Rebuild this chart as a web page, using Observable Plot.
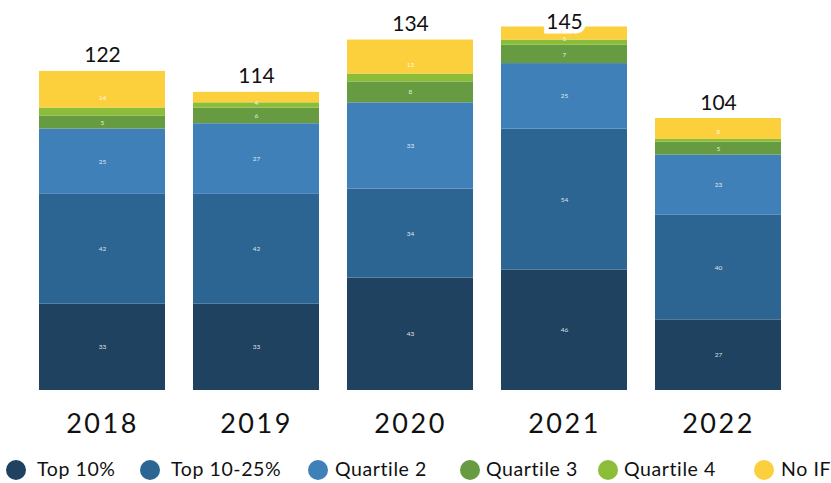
<!DOCTYPE html>
<html>
<head>
<meta charset="utf-8">
<script src="https://cdn.jsdelivr.net/npm/d3@7"></script>
<script src="https://cdn.jsdelivr.net/npm/@observablehq/plot@0.6"></script>
<style>
  html, body { margin: 0; padding: 0; background: #fff; }
  body { width: 831px; font-family: Lato, "Open Sans", sans-serif; }
  #chart svg g[aria-label="x-axis tick label"] text { letter-spacing: 2.5px; }
  #chart svg g[aria-label="totals"] text { letter-spacing: 2px; }
  #legend { position: relative; height: 38px; font-size: 19.5px; color: #111; letter-spacing: 0.6px; white-space: nowrap; }
  #legend .dot { position: absolute; top: 15px; width: 20px; height: 20px; border-radius: 50%; }
  #legend .lab { position: absolute; top: 11px; line-height: 26px; }
</style>
</head>
<body>
<div id="chart"></div>
<div id="legend"></div>
<script>
const years = ["2018", "2019", "2020", "2021", "2022"];
const categories = ["Top 10%", "Top 10-25%", "Quartile 2", "Quartile 3", "Quartile 4", "No IF"];
const top10 = [33, 33, 43, 46, 27];
const top10to25 = [42, 42, 34, 54, 40];
const quartile2 = [25, 27, 33, 25, 23];
const quartile3 = [5, 6, 8, 7, 5];
const quartile4 = [3, 2, 3, 2, 1];
const noIF = [14, 4, 13, 5, 8];
const totals = [122, 114, 134, 145, 104];
const colors = ["#1f4260", "#2d6592", "#3f80b8", "#679b41", "#8bbd39", "#fcd03c"];

const series = [top10, top10to25, quartile2, quartile3, quartile4, noIF];
const data = [];
categories.forEach((c, ci) => years.forEach((y, yi) => data.push({year: y, cat: c, value: series[ci][yi]})));
const tops = years.map((y, yi) => ({year: y, sum: d3.sum(series, s => s[yi]), label: String(totals[yi])}));
const tallest = d3.max(tops, d => d.sum);

const chart = Plot.plot({
  width: 831,
  height: 445,
  marginTop: 10,
  marginBottom: 55,
  marginLeft: 9.5,
  marginRight: 21,
  style: {fontFamily: "Lato, sans-serif", background: "#fff"},
  x: {domain: years, padding: 0.185, label: null},
  y: {domain: [0, 145.3], axis: null},
  color: {domain: categories, range: colors},
  marks: [
    Plot.barY(data, Plot.stackY({x: "year", y: "value", fill: "cat", order: categories})),
    Plot.text(data.filter(d => d.cat !== "Quartile 4"), Plot.stackY({x: "year", y: "value", z: "cat", order: categories, text: d => String(d.value), fill: "#fff", fontSize: 6.5, fillOpacity: 0.85})),
    Plot.text(tops.filter(d => d.sum < tallest), {x: "year", y: "sum", text: "label", dy: -9, lineAnchor: "bottom", fontSize: 21, fill: "#111", ariaLabel: "totals"}),
    Plot.text(tops.filter(d => d.sum === tallest), {x: "year", y: "sum", text: "label", dy: 2, lineAnchor: "bottom", fontSize: 21, fill: "#111", stroke: "#fff", strokeWidth: 9, strokeLinejoin: "miter", ariaLabel: "totals"}),
    Plot.axisX({tickSize: 0, tickPadding: 23, fontSize: 27, fill: "#111"})
  ]
});
document.getElementById("chart").appendChild(chart);

const legend = document.getElementById("legend");
const dotLefts = [6, 140, 308, 460, 598, 754];
const labLefts = [37, 171, 335, 486, 624, 781];
categories.forEach((c, i) => {
  const dot = document.createElement("div");
  dot.className = "dot";
  dot.style.left = dotLefts[i] + "px";
  dot.style.background = colors[i];
  const label = document.createElement("span");
  label.className = "lab";
  label.style.left = labLefts[i] + "px";
  label.textContent = c;
  legend.appendChild(dot);
  legend.appendChild(label);
});
</script>
</body>
</html>
